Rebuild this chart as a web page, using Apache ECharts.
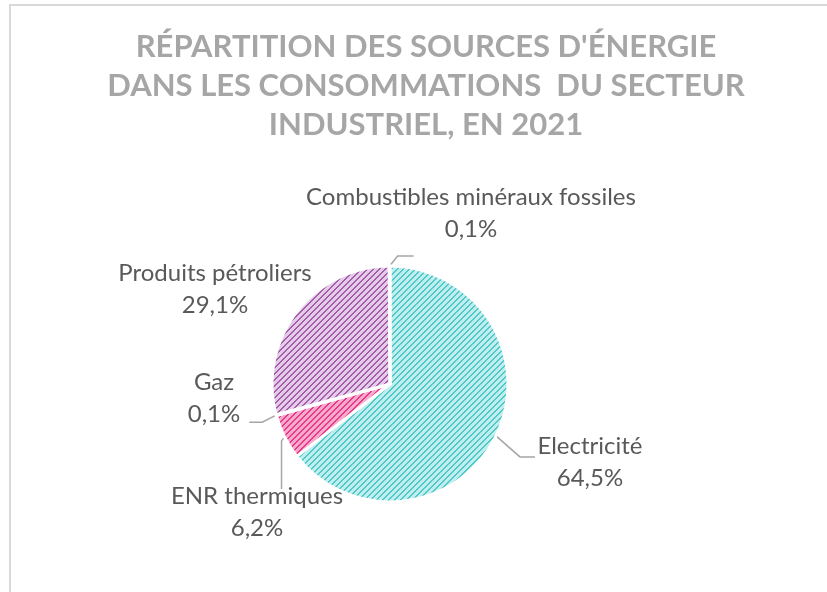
<!DOCTYPE html>
<html>
<head>
<meta charset="utf-8">
<script src="https://cdn.jsdelivr.net/npm/echarts@6/dist/echarts.min.js"></script>
<style>
html,body{margin:0;padding:0;background:#fff;}
#main{width:827px;height:592px;}
</style>
</head>
<body>
<div id="main"></div>
<script>
const titleLines = ["RÉPARTITION DES SOURCES D'ÉNERGIE", "DANS LES CONSOMMATIONS  DU SECTEUR", "INDUSTRIEL, EN 2021"];
const categories = ["Electricité", "ENR thermiques", "Gaz", "Produits pétroliers", "Combustibles minéraux fossiles"];
const shares = [64.5, 6.2, 0.1, 29.1, 0.1];
const palette = [
  {bg: '#c0eded', fg: '#4fc8ca'},
  {bg: '#f7a9cc', fg: '#e8388a'},
  {bg: '#d8d8d8', fg: '#8a8a8a'},
  {bg: '#e4cbe8', fg: '#a45cab'},
  {bg: '#d8d8d8', fg: '#8a8a8a'}
];
// label centres
const labelPos = [
  [590, 462], [257, 512], [214, 398], [215, 289], [471, 213]
];
// leader line bends, as offsets from the slice anchor (null = no leader line)
const leaderBends = [
  [[24, 21], [39, 21]],
  [[-3, 4], [-3, 52]],
  [[-14, 7], [-27, 7]],
  null,
  [[8, -10], [24, -10]]
];

function makePattern(bg, fg) {
  const c = document.createElement('canvas');
  c.width = 6; c.height = 6;
  const ctx = c.getContext('2d');
  ctx.fillStyle = bg;
  ctx.fillRect(0, 0, 6, 6);
  ctx.fillStyle = fg;
  for (let i = 0; i < 6; i++) {
    ctx.fillRect(5 - i, i, 1, 1);
    ctx.fillRect((6 - i) % 6, i, 1, 1);
  }
  return {image: c, repeat: 'repeat'};
}

const chart = echarts.init(document.getElementById('main'), null, {renderer: 'canvas'});
const data = categories.map((name, i) => ({
  name: name,
  value: shares[i],
  itemStyle: {color: makePattern(palette[i].bg, palette[i].fg)},
  labelLine: {show: leaderBends[i] !== null}
}));

chart.setOption({
  backgroundColor: '#ffffff',
  animation: false,
  graphic: [{
    type: 'rect',
    shape: {x: 10, y: 5, width: 900, height: 700},
    style: {fill: 'none', stroke: '#d9d9d9', lineWidth: 2},
    silent: true
  }],
  title: {
    text: titleLines.join('\n'),
    left: 421,
    textAlign: 'center',
    top: 22,
    textStyle: {
      fontFamily: 'Lato',
      fontWeight: 'bold',
      fontSize: 31,
      lineHeight: 39,
      color: '#a6a6a6'
    }
  },
  series: [{
    type: 'pie',
    center: [390, 384],
    radius: 118,
    startAngle: 90,
    clockwise: true,
    data: data,
    itemStyle: {borderColor: '#ffffff', borderWidth: 3},
    label: {
      show: true,
      fontFamily: 'Lato',
      fontSize: 24,
      lineHeight: 32,
      color: '#595959',
      align: 'center',
      formatter: p => p.name + '\n' + p.value.toFixed(1).replace('.', ',') + '%'
    },
    labelLine: {show: true, lineStyle: {color: '#a6a6a6', width: 1.5}},
    labelLayout: function (params) {
      const i = params.dataIndex;
      const pos = labelPos[i];
      const out = {x: pos[0], y: pos[1], align: 'center', verticalAlign: 'middle'};
      const bends = leaderBends[i];
      if (bends && params.labelLinePoints && params.labelLinePoints.length) {
        const s = params.labelLinePoints[0];
        out.labelLinePoints = [
          [s[0], s[1]],
          [s[0] + bends[0][0], s[1] + bends[0][1]],
          [s[0] + bends[1][0], s[1] + bends[1][1]]
        ];
      }
      return out;
    }
  }]
});
</script>
</body>
</html>
